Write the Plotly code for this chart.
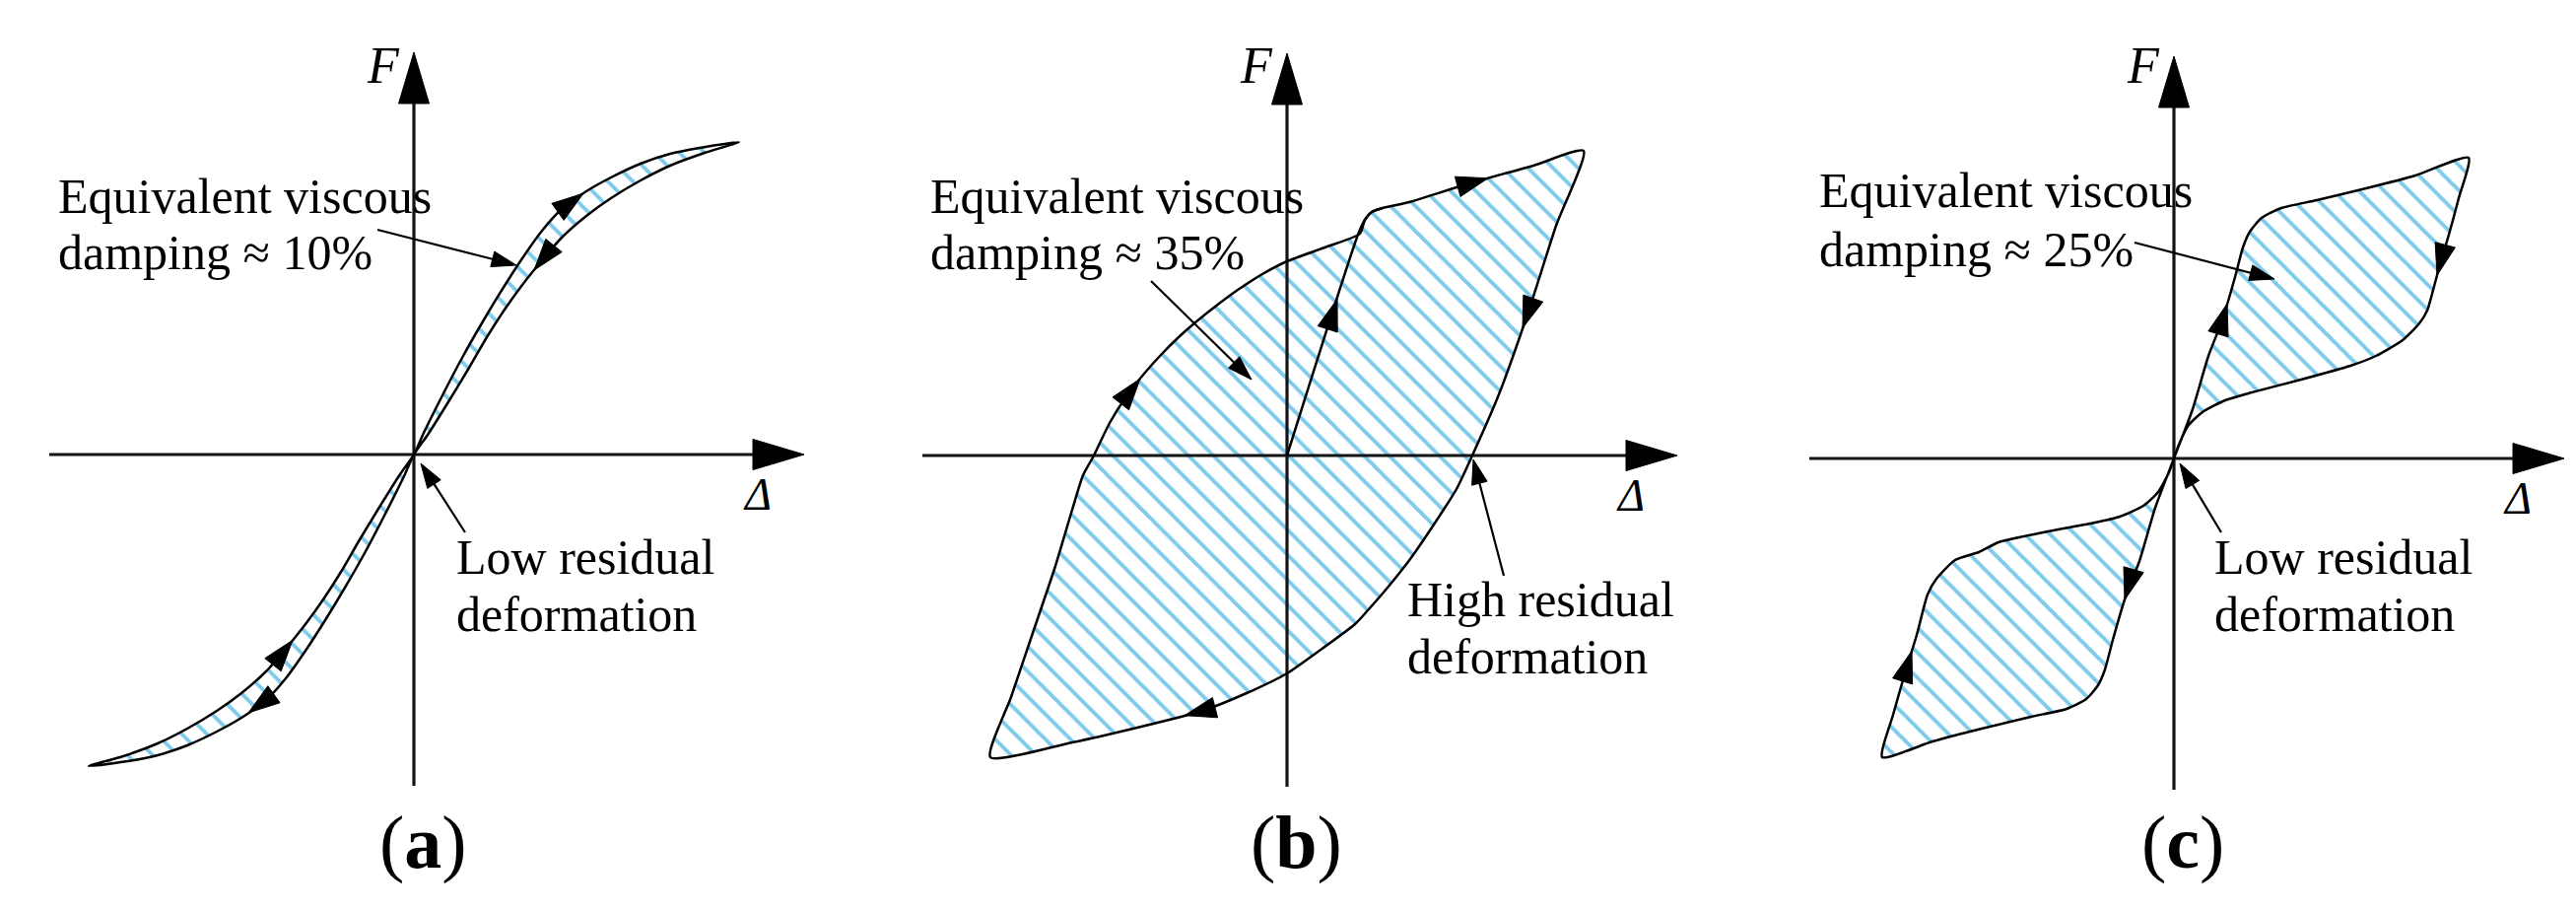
import math
import plotly.graph_objects as go

# ---------------- data (displacement Δ and force F, diagram units) ----------------
# (a) narrow S-shaped loop
a_load_d = [-3.30, -2.95, -2.60, -2.30, -2.00, -1.75, -1.50, -1.30, -1.10, -0.92, -0.74, -0.56, -0.36, -0.14, 0.00,
            0.10, 0.30, 0.50, 0.70, 0.90, 1.10, 1.30, 1.50, 1.75, 2.00, 2.30, 2.60, 2.90, 3.30]
a_load_f = [-3.16, -3.06, -2.93, -2.78, -2.60, -2.42, -2.20, -1.97, -1.72, -1.47, -1.19, -0.88, -0.55, -0.20, 0.00,
            0.22, 0.62, 1.00, 1.35, 1.68, 1.99, 2.27, 2.49, 2.67, 2.81, 2.95, 3.05, 3.11, 3.17]
a_unload_d = [3.30, 2.95, 2.60, 2.30, 2.00, 1.75, 1.50, 1.30, 1.10, 0.92, 0.74, 0.56, 0.36, 0.14, 0.00,
              -0.10, -0.30, -0.50, -0.70, -0.90, -1.10, -1.30, -1.50, -1.75, -2.00, -2.30, -2.60, -2.90, -3.30]
a_unload_f = [3.17, 3.06, 2.93, 2.78, 2.60, 2.42, 2.20, 1.97, 1.72, 1.47, 1.19, 0.88, 0.55, 0.20, 0.00,
              -0.22, -0.62, -1.00, -1.35, -1.68, -1.99, -2.27, -2.49, -2.67, -2.81, -2.95, -3.05, -3.11, -3.16]

# (b) wide yielding loop
b_load_d = [-3.01, -2.80, -2.58, -2.36, -2.18, -2.07, -1.96, -1.80, -1.63, -1.45, -1.28, -1.10, -0.93, -0.73,
            -0.50, -0.25, 0.00, 0.41, 0.74, 0.79, 0.86, 0.97, 1.24, 1.85, 2.50, 3.01]
b_load_f = [-3.06, -2.45, -1.80, -1.15, -0.55, -0.20, 0.00, 0.33, 0.60, 0.83, 1.02, 1.20, 1.35, 1.51,
            1.68, 1.84, 1.97, 2.12, 2.25, 2.39, 2.47, 2.51, 2.57, 2.76, 2.94, 3.09]
b_unload_d = [3.01, 2.73, 2.45, 2.15, 1.88, 1.72, 1.49, 1.25, 1.02, 0.82, 0.69, 0.30, 0.00, -0.41, -0.86, -1.52, -2.18, -3.01]
b_unload_f = [3.09, 2.33, 1.46, 0.62, 0.00, -0.34, -0.70, -1.05, -1.34, -1.57, -1.71, -2.00, -2.21, -2.41, -2.59, -2.76, -2.91, -3.06]
b_virgin_d = [0.00, 0.72, 0.79, 0.86, 0.97]
b_virgin_f = [0.00, 2.24, 2.39, 2.47, 2.51]

# (c) flag-shaped loop
c_load_d = [0.00, 0.19, 0.35, 0.49, 0.62, 0.70, 0.77, 0.89, 1.09, 1.45, 1.95, 2.45, 2.99]
c_load_f = [0.00, 0.50, 1.04, 1.40, 1.84, 2.14, 2.30, 2.44, 2.54, 2.62, 2.74, 2.87, 3.05]
c_unload_d = [2.99, 2.89, 2.79, 2.70, 2.62, 2.57, 2.49, 2.32, 2.05, 1.79, 1.29, 0.79, 0.52, 0.29, 0.15, 0.05, 0.00]
c_unload_f = [3.05, 2.64, 2.27, 1.97, 1.67, 1.50, 1.37, 1.20, 1.04, 0.94, 0.80, 0.67, 0.59, 0.47, 0.34, 0.14, 0.00]
c_rev_d = [0.00, -0.19, -0.35, -0.49, -0.62, -0.70, -0.77, -0.89, -1.09, -1.45, -1.95, -2.45, -2.96]
c_rev_f = [0.00, -0.50, -1.04, -1.40, -1.84, -2.14, -2.30, -2.44, -2.54, -2.62, -2.74, -2.87, -3.03]
c_ret_d = [-2.96, -2.85, -2.73, -2.61, -2.50, -2.41, -2.22, -1.98, -1.78, -1.28, -0.80, -0.55, -0.31, -0.16, -0.05, 0.00]
c_ret_f = [-3.03, -2.60, -2.18, -1.79, -1.38, -1.22, -1.03, -0.95, -0.85, -0.74, -0.65, -0.59, -0.48, -0.34, -0.14, 0.00]

# direction arrows: (branch, Δ at the arrow tip)
a_arrows = [("load", 1.72), ("unload", 1.22), ("load", -1.23), ("unload", -1.68)]
b_arrows = [("load", -1.49), ("virgin", 0.51), ("load", 2.04), ("unload", 2.39), ("unload", -1.04)]
c_arrows = [("load", 0.54), ("unload", 2.67), ("rev", -0.50), ("ret", -2.66)]

damping_text = ["damping ≈ 10%", "damping ≈ 35%", "damping ≈ 25%"]
residual_text = [["Low residual", "deformation"], ["High residual", "deformation"], ["Low residual", "deformation"]]
panel_tags = ["a", "b", "c"]

# ---------------- layout constants ----------------
FIG_W, FIG_H = 2614, 925
PX = 100.0
panel_px = [(0, 871), (871, 1742), (1742, 2614)]
origin_px = [(412, 453), (1298, 454), (2198, 457)]
HATCH = "#0095d8"
FONT = "Liberation Serif"

fig = go.Figure()


def tri(tip, u, L, W):
    ux, uy = u
    nx, ny = -uy, ux
    bx, by = tip[0] - L * ux, tip[1] - L * uy
    return ([tip[0], bx + W * nx, bx - W * nx, tip[0], None],
            [tip[1], by + W * ny, by - W * ny, tip[1], None])


def on_branch(ds, fs, v):
    for i in range(len(ds) - 1):
        d0, d1 = ds[i], ds[i + 1]
        if d0 != d1 and (d0 - v) * (d1 - v) <= 0:
            t = (v - d0) / (d1 - d0)
            p = (d0 + t * (d1 - d0), fs[i] + t * (fs[i + 1] - fs[i]))
            dx, dy = d1 - d0, fs[i + 1] - fs[i]
            n = math.hypot(dx, dy)
            return p, (dx / n, dy / n)
    return None


branches = [
    {"load": (a_load_d, a_load_f), "unload": (a_unload_d, a_unload_f)},
    {"load": (b_load_d, b_load_f), "unload": (b_unload_d, b_unload_f), "virgin": (b_virgin_d, b_virgin_f)},
    {"load": (c_load_d, c_load_f), "unload": (c_unload_d, c_unload_f),
     "rev": (c_rev_d, c_rev_f), "ret": (c_ret_d, c_ret_f)},
]
loops = [
    (a_load_d + a_unload_d[1:], a_load_f + a_unload_f[1:]),
    (b_load_d + b_unload_d[1:], b_load_f + b_unload_f[1:]),
    (c_load_d + c_unload_d[1:] + c_rev_d[1:] + c_ret_d[1:],
     c_load_f + c_unload_f[1:] + c_rev_f[1:] + c_ret_f[1:]),
]
arrows = [a_arrows, b_arrows, c_arrows]

# pointer leaders (start, tip) in panel units
pointers = [
    [((-0.37, 2.28), (1.04, 1.92)), ((0.52, -0.79), (0.07, -0.09))],
    [((-1.38, 1.77), (-0.36, 0.77)), ((2.20, -1.22), (1.89, -0.04))],
    [((-0.40, 2.19), (1.02, 1.82)), ((0.48, -0.75), (0.06, -0.05))],
]
text_pos = [
    {"eq": (-3.63, 2.62, 2.05), "res": (0.41, -1.04, -1.62)},
    {"eq": (-3.64, 2.63, 2.06), "res": (1.20, -1.46, -2.04)},
    {"eq": (-3.62, 2.72, 2.12), "res": (0.39, -1.00, -1.58)},
]

AX_L, AX_TIP, AY_B, AY_TIP = -3.70, 3.96, -3.36, 4.08
HEAD_L, HEAD_W = 0.52, 0.155

annotations = []
for i in range(3):
    sfx = "" if i == 0 else str(i + 1)
    xa, ya = "x" + sfx, "y" + sfx
    x0, x1 = panel_px[i]
    ox, oy = origin_px[i]
    fig.update_layout(**{
        "xaxis" + sfx: dict(domain=[x0 / FIG_W, x1 / FIG_W], range=[(x0 - ox) / PX, (x1 - ox) / PX],
                            visible=False, fixedrange=True, anchor=ya),
        "yaxis" + sfx: dict(domain=[0, 1], range=[-(FIG_H - oy) / PX, oy / PX],
                            visible=False, fixedrange=True, anchor=xa),
    })

    # hatched loop
    lx, ly = loops[i]
    fig.add_trace(go.Scatter(x=lx, y=ly, xaxis=xa, yaxis=ya, mode="lines", fill="toself",
                             fillcolor="rgba(255,255,255,0)",
                             fillpattern=dict(shape="\\", size=18, solidity=0.22, fgcolor=HATCH),
                             line=dict(color="rgba(0,0,0,0)", width=0, shape="spline", smoothing=0.6),
                             hoverinfo="skip", showlegend=False))

    # coordinate axes with arrowheads
    fig.add_trace(go.Scatter(x=[AX_L, AX_TIP - HEAD_L * 0.8, None, 0, 0], y=[0, 0, None, AY_B, AY_TIP - HEAD_L * 0.8],
                             xaxis=xa, yaxis=ya, mode="lines", line=dict(color="#141414", width=3.2),
                             hoverinfo="skip", showlegend=False))
    hx1, hy1 = tri((AX_TIP, 0), (1, 0), HEAD_L, HEAD_W)
    hx2, hy2 = tri((0, AY_TIP), (0, 1), HEAD_L, HEAD_W)
    fig.add_trace(go.Scatter(x=hx1 + hx2, y=hy1 + hy2, xaxis=xa, yaxis=ya, mode="lines", fill="toself",
                             fillcolor="black", line=dict(color="black", width=1),
                             hoverinfo="skip", showlegend=False))

    # loop outline
    fig.add_trace(go.Scatter(x=lx, y=ly, xaxis=xa, yaxis=ya, mode="lines",
                             line=dict(color="black", width=2.5, shape="spline", smoothing=0.6),
                             hoverinfo="skip", showlegend=False))
    if "virgin" in branches[i]:
        vd, vf = branches[i]["virgin"]
        fig.add_trace(go.Scatter(x=vd, y=vf, xaxis=xa, yaxis=ya, mode="lines",
                                 line=dict(color="black", width=2.5, shape="spline", smoothing=0.6),
                                 hoverinfo="skip", showlegend=False))

    # direction arrowheads + pointer leaders
    axs, ays = [], []
    for name, v in arrows[i]:
        ds, fs = branches[i][name]
        p, u = on_branch(ds, fs, v)
        tx, ty = tri(p, u, 0.32, 0.105)
        axs += tx
        ays += ty
    lxs, lys = [], []
    for (s, t) in pointers[i]:
        dx, dy = t[0] - s[0], t[1] - s[1]
        n = math.hypot(dx, dy)
        u = (dx / n, dy / n)
        lxs += [s[0], t[0] - 0.2 * u[0], None]
        lys += [s[1], t[1] - 0.2 * u[1], None]
        tx, ty = tri(t, u, 0.25, 0.08)
        axs += tx
        ays += ty
    fig.add_trace(go.Scatter(x=lxs, y=lys, xaxis=xa, yaxis=ya, mode="lines",
                             line=dict(color="black", width=2.2), hoverinfo="skip", showlegend=False))
    fig.add_trace(go.Scatter(x=axs, y=ays, xaxis=xa, yaxis=ya, mode="lines", fill="toself",
                             fillcolor="black", line=dict(color="black", width=1),
                             hoverinfo="skip", showlegend=False))

    # texts
    tp = text_pos[i]
    ex, ey1, ey2 = tp["eq"]
    rx, ry1, ry2 = tp["res"]
    items = [("Equivalent viscous", ex, ey1), (damping_text[i], ex, ey2),
             (residual_text[i][0], rx, ry1), (residual_text[i][1], rx, ry2)]
    for txt, tx_, ty_ in items:
        annotations.append(dict(text=txt, x=tx_, y=ty_, xref=xa, yref=ya, xanchor="left", yanchor="middle",
                                showarrow=False, font=dict(family=FONT, size=50, color="black")))
    annotations.append(dict(text="<i>F</i>", x=-0.31, y=(oy - 58) / PX, xref=xa, yref=ya,
                            xanchor="center", yanchor="middle", showarrow=False,
                            font=dict(family=FONT, size=52, color="black")))
    annotations.append(dict(text="<i>Δ</i>", x=3.48, y=-0.40, xref=xa, yref=ya,
                            xanchor="center", yanchor="middle", showarrow=False,
                            font=dict(family=FONT, size=46, color="black")))
    annotations.append(dict(text="(<b>%s</b>)" % panel_tags[i], x=0.09, y=(oy - 846) / PX, xref=xa, yref=ya,
                            xanchor="center", yanchor="middle", showarrow=False,
                            font=dict(family=FONT, size=76, color="black")))

fig.update_layout(width=FIG_W, height=FIG_H, margin=dict(l=0, r=0, t=0, b=0),
                  paper_bgcolor="white", plot_bgcolor="white", showlegend=False,
                  annotations=annotations)

fig.write_html("out.html")
